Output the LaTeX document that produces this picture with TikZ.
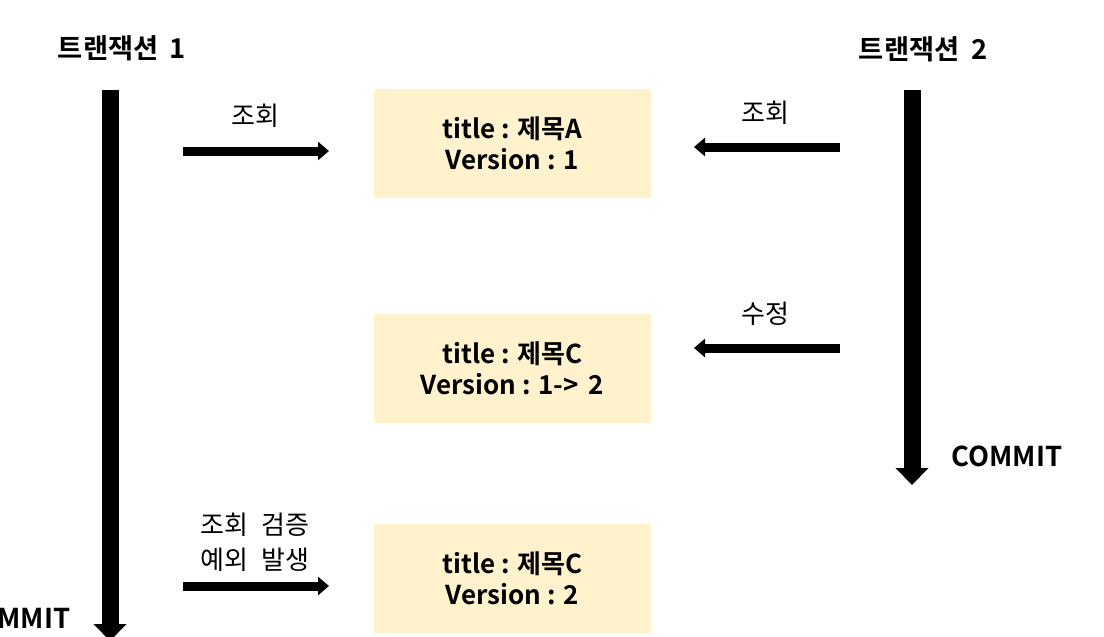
\documentclass[tikz,border=0pt]{standalone}
\usepackage{fontspec}
\setmainfont{Noto Sans CJK KR}[BoldFont={Noto Sans CJK KR Bold}]
\usetikzlibrary{arrows.meta}
\definecolor{boxfill}{HTML}{FFF2CC}
\tikzset{
  databox/.style={fill=boxfill, draw=none, minimum width=277*0.75pt, minimum height=109*0.75pt, inner sep=0pt, align=center, font=\bfseries\fontsize{19.5}{23.5}\selectfont},
  lbl/.style={font=\fontsize{19.5}{23.5}\selectfont, align=center, inner sep=0pt},
  blbl/.style={font=\bfseries\fontsize{20.5}{24}\selectfont, inner sep=0pt}
  ,timeline/.style={line width=17*0.75pt, -{Triangle[width=32*0.75pt, length=17*0.75pt]}},
  msg/.style={line width=9*0.75pt, -{Triangle[width=18*0.75pt, length=11*0.75pt]}}
}
\begin{document}
\begin{tikzpicture}[x=0.75pt, y=-0.75pt]
\useasboundingbox (0,0) rectangle (1104,636);
\clip (0,0) rectangle (1104,636);
% boxes
\node[databox] (b1) at (512.5,143) {title : 제목A\\Version : 1};
\node[databox] (b2) at (512.5,368) {title : 제목C\\Version : 1-> \,2};
\node[databox] (b3) at (512.5,578) {title : 제목C\\Version : 2};
% titles
\node[blbl] (t1) at (122,48) {트랜잭션\hspace{4pt} 1};
\node[blbl] (t2) at (923,49) {트랜잭션\hspace{4pt} 2};
% timelines
\coordinate (l1s) at (110,90);
\coordinate (l1e) at (110,641);
\coordinate (l2s) at (912,90);
\coordinate (l2e) at (912,485);
\draw[timeline] (l1s) -- (l1e);
\draw[timeline] (l2s) -- (l2e);
\node[blbl] (c1) at (15,618) {COMMIT};
\node[blbl] (c2) at (1007,456) {COMMIT};
% messages
\coordinate (m1s) at (183,151);
\coordinate (m1e) at (329,151);
\draw[msg] (m1s) -- (m1e);
\node[lbl] (m1l) at (255,116) {조회};
\coordinate (m2s) at (840,147);
\coordinate (m2e) at (694,147);
\draw[msg] (m2s) -- (m2e);
\node[lbl] (m2l) at (765,113) {조회};
\coordinate (m3s) at (840,348);
\coordinate (m3e) at (694,348);
\draw[msg] (m3s) -- (m3e);
\node[lbl] (m3l) at (765,314) {수정};
\coordinate (m4s) at (183,586);
\coordinate (m4e) at (329,586);
\draw[msg] (m4s) -- (m4e);
\node[lbl] (m4l) at (255,542) {조회\hspace{6pt} 검증\\[3pt]예외\hspace{6pt} 발생};
\end{tikzpicture}
\end{document}
